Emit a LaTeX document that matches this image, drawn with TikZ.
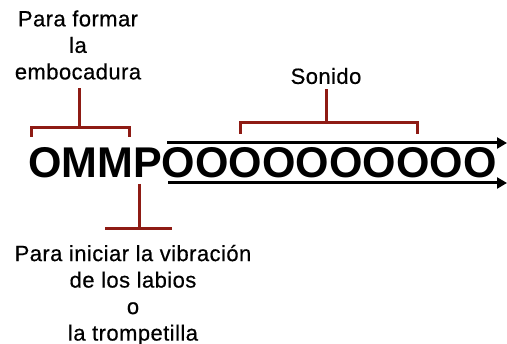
\documentclass[tikz,border=0pt]{standalone}
\usepackage{fontspec}
\setmainfont{Liberation Sans}
\newfontfamily\notefont[FakeBold=0.5,LetterSpace=2]{Liberation Sans}
\usetikzlibrary{arrows.meta,positioning}
\definecolor{bracketred}{HTML}{8E1B14}

\begin{document}
\begin{tikzpicture}[x=1pt,y=-1pt,>={Triangle[length=10pt,width=11pt]},
      label/.style={align=center,inner sep=0pt,font=\notefont\fontsize{22}{26.5}\selectfont},
      brace/.style={draw=bracketred,line width=3pt},
      flow/.style={->,line width=3pt}]
	\useasboundingbox (0,0) rectangle (507,344);
	\node[inner sep=0pt,anchor=base west,font=\fontsize{43}{43}\selectfont\bfseries] (word) at (28,178) {OMMPOOOOOOOOOO};
	\node[label] (boca) at (78,45) {Para formar\\la\\embocadura};
	\node[label] (sonido) at (326,76) {Sonido};
	\node[label] (labios) at (133,295) {Para iniciar la vibración\\de los labios\\o\\la trompetilla};
	% brackets
	\draw[brace] (31,137) -- (31,128) -- (129,128) -- (129,137);
	\draw[brace] (79.5,128) -- (79.5,88);
	\draw[brace] (240,134) -- (240,122.5) -- (417,122.5) -- (417,134);
	\draw[brace] (326,122.5) -- (326,89);
	\draw[brace] (139.5,184) -- (139.5,229);
	\draw[brace] (105,229) -- (172,229);
	% arrows
	\coordinate (a1) at (167,143);
	\coordinate (b1) at (507,143);
	\coordinate (a2) at (168,183);
	\coordinate (b2) at (507,183);
	\draw[flow] (a1) -- (b1);
	\draw[flow] (a2) -- (b2);
\end{tikzpicture}
\end{document}
